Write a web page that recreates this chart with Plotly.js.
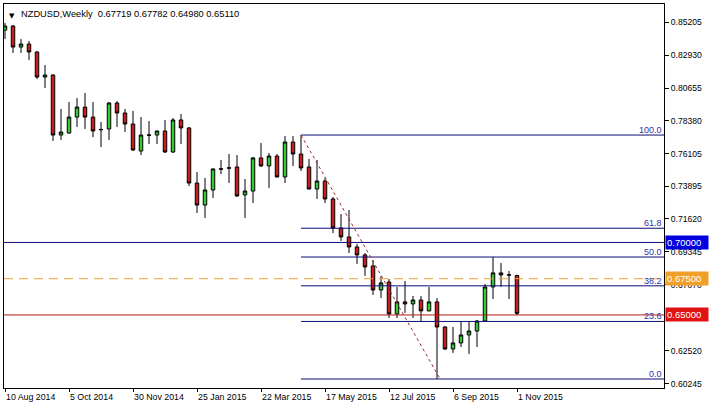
<!DOCTYPE html>
<html><head><meta charset="utf-8">
<script src="https://cdn.plot.ly/plotly-3.0.1.min.js"></script>
<style>html,body{margin:0;padding:0;background:#fff;}#chart{width:709px;height:408px;}</style>
</head><body><div id="chart"></div>
<script>
const opens = [0.8465,0.8493,0.8348,0.8369,0.8314,0.8141,0.8155,0.7741,0.7755,0.7865,
0.7934,0.7865,0.7780,0.7783,0.7962,0.7893,0.7817,0.7631,0.7742,0.7741,
0.7769,0.7624,0.7845,0.7790,0.7410,0.7258,0.7362,0.7508,0.7515,0.7521,
0.7328,0.7355,0.7583,0.7528,0.7596,0.7452,0.7693,0.7610,0.7521,0.7369,
0.7424,0.7300,0.7100,0.7038,0.6969,0.6914,0.6838,0.6672,0.6727,0.6507,
0.6590,0.6576,0.6603,0.6528,0.6590,0.6417,0.6265,0.6307,0.6362,0.6389,
0.6458,0.6693,0.6790,0.6777,0.67719];
const highs = [0.8514,0.8500,0.8403,0.8390,0.8320,0.8224,0.8160,0.7921,0.7969,0.7996,
0.8031,0.7969,0.7831,0.7969,0.7975,0.7921,0.7907,0.7865,0.7838,0.7772,
0.7845,0.7858,0.7886,0.7796,0.7486,0.7445,0.7510,0.7569,0.7610,0.7603,
0.7438,0.7590,0.7686,0.7617,0.7610,0.7734,0.7734,0.7741,0.7576,0.7569,
0.7445,0.7314,0.7196,0.7224,0.6990,0.6927,0.6879,0.6769,0.6748,0.6693,
0.6734,0.6631,0.6631,0.6693,0.6617,0.6424,0.6417,0.6452,0.6452,0.6465,
0.6714,0.6900,0.6858,0.6803,0.67782];
const lows = [0.8403,0.8307,0.8307,0.8258,0.8127,0.8065,0.7700,0.7707,0.7750,0.7796,
0.7783,0.7727,0.7658,0.7707,0.7796,0.7762,0.7631,0.7603,0.7679,0.7679,
0.7617,0.7617,0.7679,0.7389,0.7203,0.7169,0.7307,0.7472,0.7410,0.7314,
0.7169,0.7272,0.7521,0.7376,0.7448,0.7410,0.7527,0.7493,0.7365,0.7300,
0.7272,0.7065,0.7010,0.6927,0.6852,0.6769,0.6638,0.6617,0.6479,0.6479,
0.6514,0.6479,0.6458,0.6525,0.6058,0.6258,0.6238,0.6279,0.6231,0.6279,
0.6455,0.6610,0.6693,0.6610,0.64980];
const closes = [0.8493,0.8348,0.8369,0.8314,0.8141,0.8155,0.7741,0.7762,0.7865,0.7934,
0.7865,0.7769,0.7778,0.7962,0.7893,0.7817,0.7638,0.7741,0.7740,0.7769,
0.7624,0.7845,0.7790,0.7410,0.7258,0.7362,0.7507,0.7506,0.7513,0.7321,
0.7355,0.7583,0.7528,0.7596,0.7452,0.7693,0.7610,0.7514,0.7369,0.7424,
0.7300,0.7100,0.7038,0.6969,0.6914,0.6831,0.6672,0.6721,0.6507,0.6590,
0.6576,0.6603,0.6528,0.6590,0.6417,0.6265,0.6307,0.6362,0.6389,0.6458,
0.6693,0.6790,0.6776,0.6775,0.65110];

const tickLabels = ['10 Aug 2014','5 Oct 2014','30 Nov 2014','25 Jan 2015','22 Mar 2015','17 May 2015','12 Jul 2015','6 Sep 2015','1 Nov 2015'];
const priceTicks = [0.85205,0.82930,0.80655,0.78380,0.76105,0.73895,0.71620,0.69345,0.67070,0.62520,0.60245];
const fibRatios = [0, 0.236, 0.382, 0.5, 0.618, 1];
const fibLabels = ['0.0','23.6','38.2','50.0','61.8','100.0'];
const fibStartIdx = 37, fibEndIdx = 54;
const levelValues = [0.70000, 0.67500, 0.65000];
const levelLabels = ['0.70000','0.67500','0.65000'];

const levelLineColors = ['#0c0c78','#f0a030','#b01818'];
const levelDash = ['solid','dash','solid'];
const levelBoxColors = ['#0000e0','#f0a028','#e01212'];

// weekly bars, one per week starting 10 Aug 2014
const weeks = opens.map((_, i) => new Date(Date.UTC(2014,7,10) + i*7*864e5).toISOString().slice(0,10));
const tickVals = tickLabels.map((_, k) => weeks[k*8]);

const xRange = [-0.125, 82.375];
const yRange = [0.5996, 0.8645];

const fibHigh = highs[fibStartIdx], fibLow = lows[fibEndIdx];
const fibNavy = '#0c0c78';
const shapes = [];
const annotations = [];
fibRatios.forEach((r, k) => {
  const v = fibLow + r*(fibHigh - fibLow);
  shapes.push({type:'line', xref:'x', yref:'y', x0:fibStartIdx, x1:xRange[1], y0:v, y1:v,
    line:{color:fibNavy, width:1}});
  annotations.push({xref:'paper', yref:'y', x:1, y:v, xanchor:'right', yanchor:'bottom', xshift:-1, yshift:-1,
    text:fibLabels[k], showarrow:false, borderpad:0,
    font:{family:'Liberation Sans, Arial, sans-serif', size:9, color:'#3030a8'}});
});
shapes.push({type:'line', xref:'x', yref:'y', x0:fibStartIdx, x1:fibEndIdx + 0.4, y0:fibHigh, y1:fibLow,
  line:{color:'#a03030', width:1, dash:'dot'}});
levelValues.forEach((v, k) => {
  shapes.push({type:'line', xref:'paper', yref:'y', x0:0, x1:1, y0:v, y1:v,
    line:{color:levelLineColors[k], width:1, dash:levelDash[k] === 'dash' ? '9px,6px' : 'solid'}});
  annotations.push({xref:'paper', yref:'y', x:1, y:v, xanchor:'left', yanchor:'middle', xshift:1,
    text:levelLabels[k], showarrow:false, bgcolor:levelBoxColors[k], borderpad:1, width:40, height:11, align:'left',
    font:{family:'Liberation Sans, Arial, sans-serif', size:9.5, color:'#ffffff'}});
});
annotations.push({xref:'paper', yref:'paper', x:0, y:1, xanchor:'left', yanchor:'top', xshift:3, yshift:-6,
  text:'▼', showarrow:false, font:{family:'DejaVu Sans, sans-serif', size:7, color:'#000'}});
annotations.push({xref:'paper', yref:'paper', x:0, y:1, xanchor:'left', yanchor:'top', xshift:15, yshift:-3,
  text:'NZDUSD,Weekly  ' + [opens[64], highs[64], lows[64], closes[64]].map(v => v.toFixed(5)).join(' '),
  showarrow:false, font:{family:'Liberation Sans, Arial, sans-serif', size:9.3, color:'#000'}});

const trace = {
  type:'candlestick', x:weeks, open:opens, high:highs, low:lows, close:closes,
  increasing:{line:{color:'#000', width:1}, fillcolor:'#32cd32'},
  decreasing:{line:{color:'#000', width:1}, fillcolor:'#cc1c1c'},
  whiskerwidth:0, hoverinfo:'skip', showlegend:false
};

const layout = {
  width:709, height:408,
  margin:{l:4, r:45, t:4, b:20},
  paper_bgcolor:'#fff', plot_bgcolor:'#fff',
  showlegend:false, boxgap:0.38,
  xaxis:{type:'category', range:xRange, rangeslider:{visible:false}, showgrid:false, zeroline:false,
    showline:true, mirror:true, linecolor:'#000', linewidth:1,
    tickmode:'array', tickvals:tickVals, ticktext:tickLabels, ticks:'outside', ticklen:3, tickcolor:'#000',
    ticklabelposition:'outside right',
    tickfont:{family:'Liberation Sans, Arial, sans-serif', size:8.8, color:'#000'}},
  yaxis:{side:'right', range:yRange, showgrid:false, zeroline:false,
    showline:true, mirror:true, linecolor:'#000', linewidth:1,
    tickmode:'array', tickvals:priceTicks, ticktext:priceTicks.map(v => v.toFixed(5)),
    ticks:'outside', ticklen:4, tickcolor:'#000',
    tickfont:{family:'Liberation Sans, Arial, sans-serif', size:8.6, color:'#000'}},
  shapes:shapes, annotations:annotations
};
Plotly.newPlot('chart', [trace], layout, {staticPlot:true, displayModeBar:false});
</script></body></html>
